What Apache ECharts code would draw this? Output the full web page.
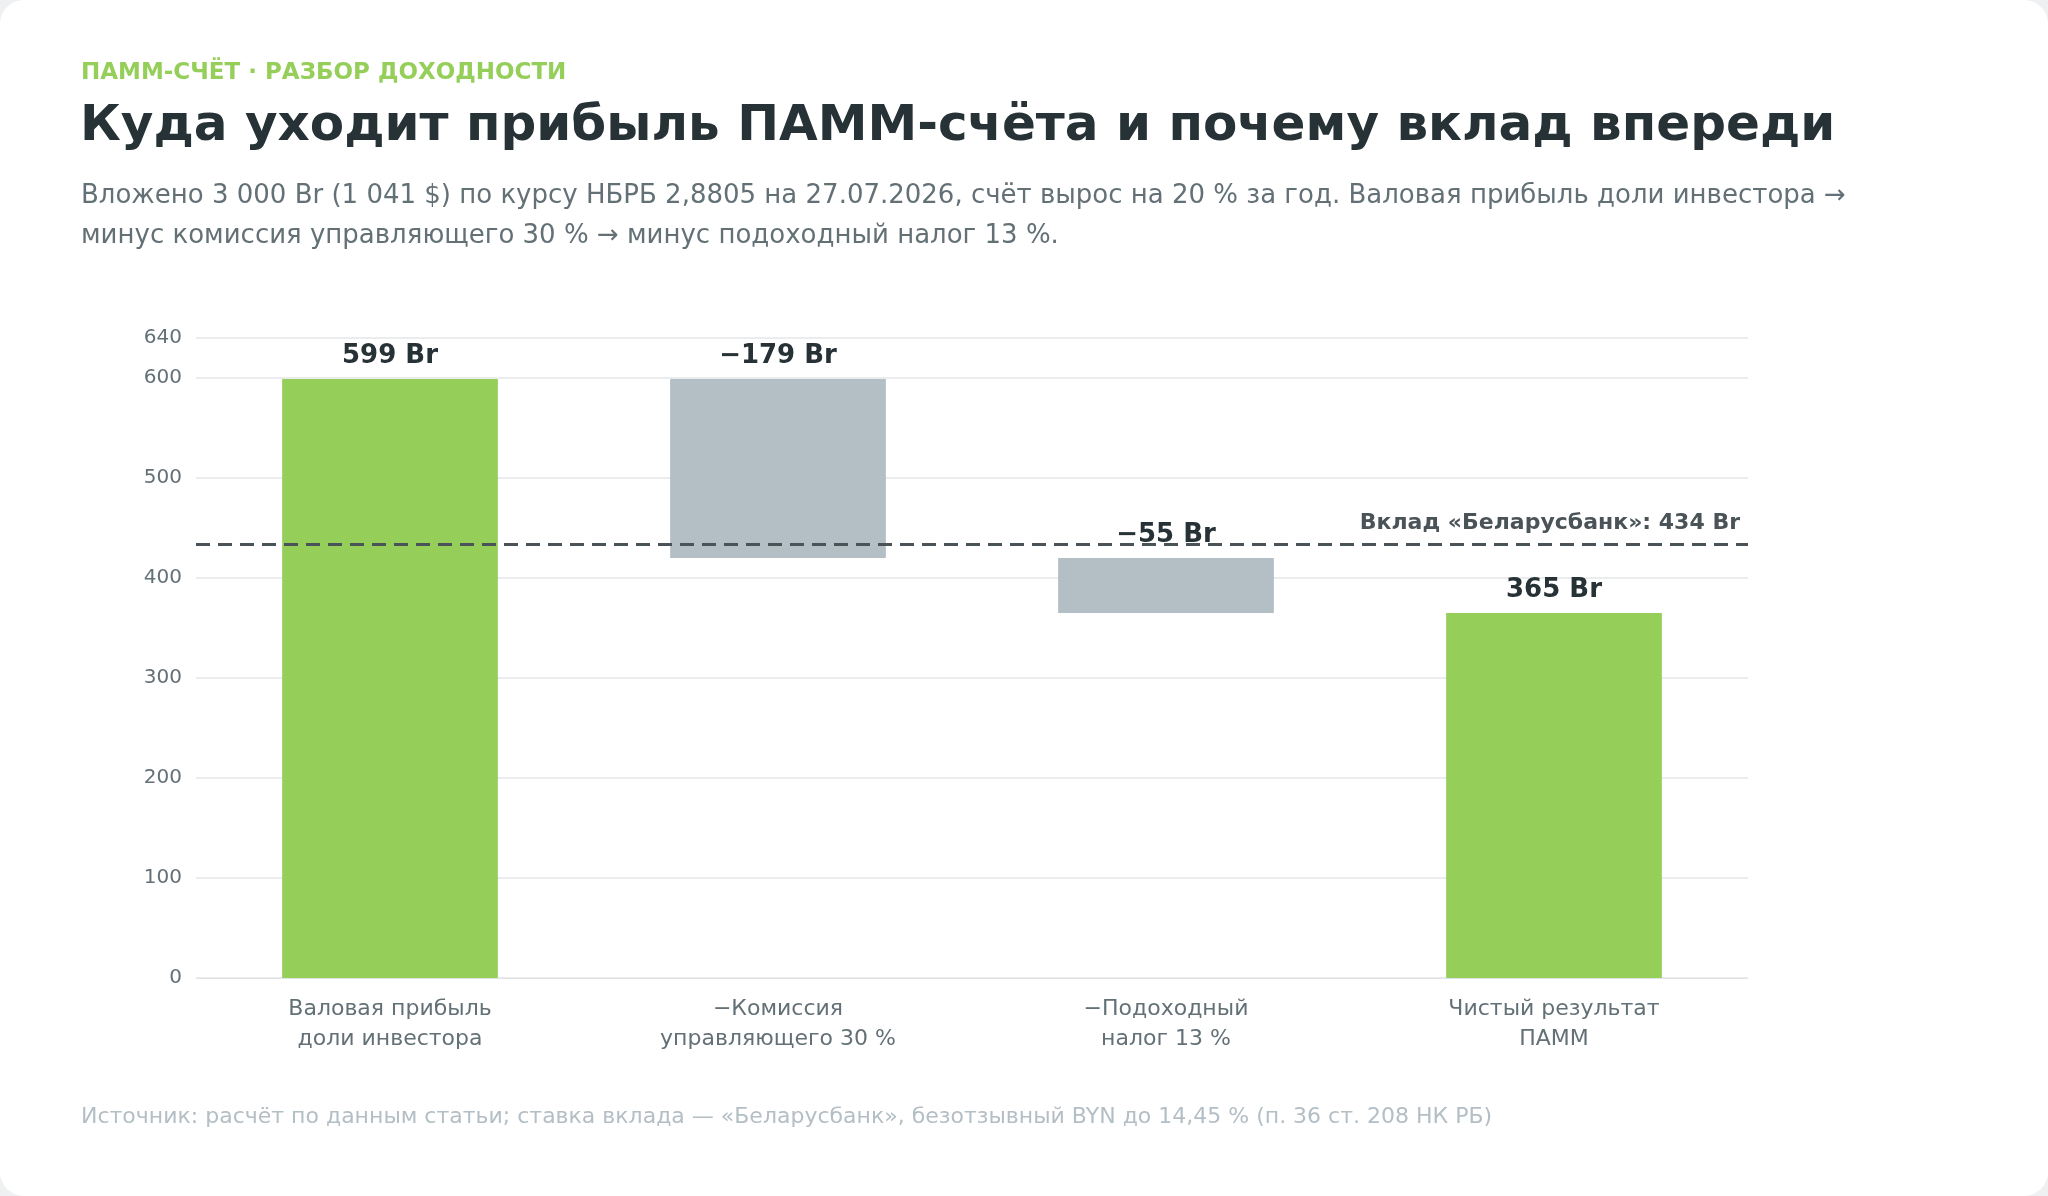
<!DOCTYPE html>
<html lang="ru">
<head>
<meta charset="UTF-8">
<title>ПАММ-счёт</title>
<style>
  * { margin: 0; padding: 0; }
  body { background: #eef0f1; }
  #chart { width: 2048px; height: 1196px; }
</style>
</head>
<body>
<div id="chart"></div>
<script src="https://cdn.jsdelivr.net/npm/echarts@6/dist/echarts.min.js"></script>
<script>
  // data
  var categories = ['Валовая прибыль\nдоли инвестора', '−Комиссия\nуправляющего 30 %', '−Подоходный\nналог 13 %', 'Чистый результат\nПАММ'];
  var baseValues = [0, 420, 365, 0];
  var barValues = [599, 179, 55, 365];
  var barLabels = ['599 Br', '−179 Br', '−55 Br', '365 Br'];
  var barKinds = ['total', 'minus', 'minus', 'total'];
  var depositValue = 434;

  var green = '#95cf5a', grey = '#b3bec5';
  var font = 'DejaVu Sans';

  var chart = echarts.init(document.getElementById('chart'));
  var option = {
    backgroundColor: '#eef0f1',
    textStyle: { fontFamily: font },
    graphic: [
      { type: 'rect', shape: { x: 0, y: 0, width: 2048, height: 1196, r: 24 }, style: { fill: '#fff' }, z: -10 },
      { type: 'text', left: 81, top: 62, style: { text: 'ПАММ-СЧЁТ · РАЗБОР ДОХОДНОСТИ', fill: '#95cf5a', font: 'bold 23px "DejaVu Sans"' } },
      { type: 'text', left: 80, top: 102, style: { text: 'Куда уходит прибыль ПАММ-счёта и почему вклад впереди', fill: '#263236', font: 'bold 50px "DejaVu Sans"' } },
      { type: 'text', left: 81, top: 176, style: { text: 'Вложено 3 000 Br (1 041 $) по курсу НБРБ 2,8805 на 27.07.2026, счёт вырос на 20 % за год. Валовая прибыль доли инвестора →\nминус комиссия управляющего 30 % → минус подоходный налог 13 %.', fill: '#637176', font: '26px "DejaVu Sans"', lineHeight: 40 } },
      { type: 'text', left: 81, top: 1106, style: { text: 'Источник: расчёт по данным статьи; ставка вклада — «Беларусбанк», безотзывный BYN до 14,45 % (п. 36 ст. 208 НК РБ)', fill: '#b3bec5', font: '22px "DejaVu Sans"' } }
    ],
    grid: { left: 196, right: 300, top: 338, bottom: 218 },
    xAxis: {
      type: 'category', data: categories,
      axisLine: { lineStyle: { color: '#dfe3e5' } }, axisTick: { show: false },
      axisLabel: { color: '#637176', fontSize: 22, lineHeight: 30, margin: 16, interval: 0 }
    },
    yAxis: {
      type: 'value', min: 0, max: 640, interval: 100,
      axisLabel: { color: '#637176', fontSize: 20, margin: 14, showMaxLabel: true },
      splitLine: { lineStyle: { color: '#e3e6e8', width: 1.5 } }
    },
    series: [
      { type: 'bar', stack: 'w', data: baseValues, itemStyle: { color: 'transparent' }, barWidth: '55.6%', silent: true },
      {
        type: 'bar', stack: 'w', barWidth: '55.6%',
        data: barValues.map(function (v, i) { return { value: v, itemStyle: { color: barKinds[i] === 'total' ? green : grey } }; }),
        label: { show: true, position: 'top', distance: 10, color: '#263236', fontSize: 26, fontWeight: 'bold',
          formatter: function (p) { return barLabels[p.dataIndex]; } },
        markLine: {
          symbol: 'none', silent: true,
          lineStyle: { color: '#4a5357', type: [14, 8], width: 3 },
          label: { position: 'insideEndTop', formatter: 'Вклад «Беларусбанк»: ' + depositValue + ' Br', color: '#4a5357', fontSize: 22, fontWeight: 'bold', distance: [8, 10] },
          data: [{ yAxis: depositValue }]
        }
      }
    ]
  };
  chart.setOption(option);
</script>
</body>
</html>
